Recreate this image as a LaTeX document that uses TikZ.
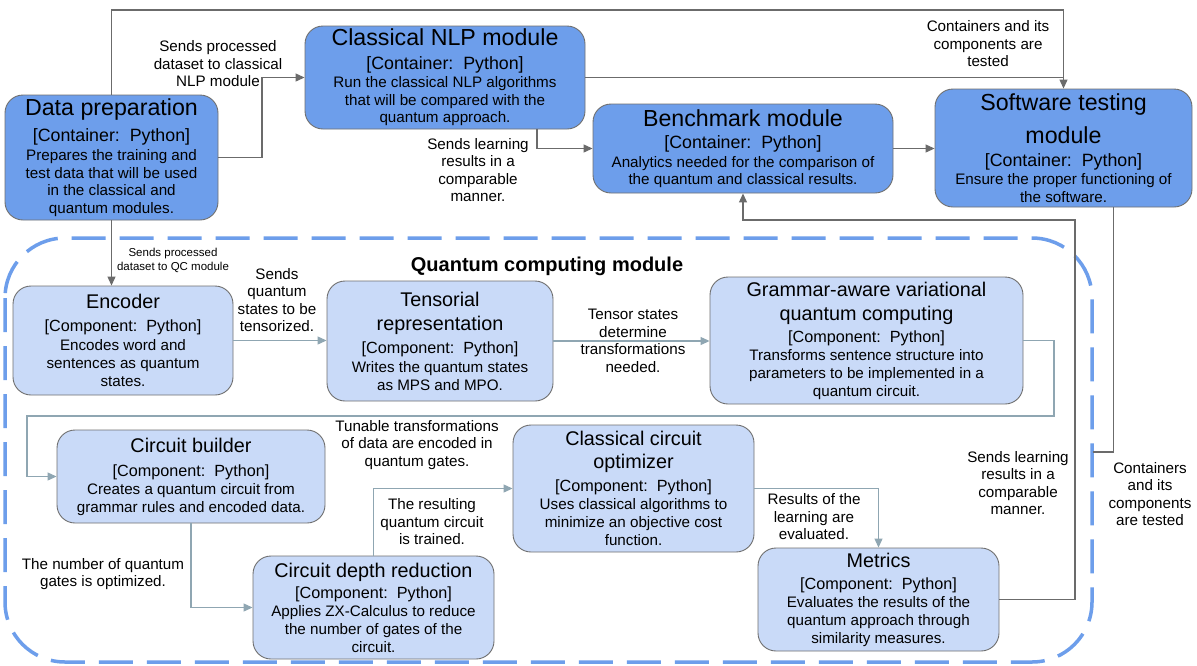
\documentclass[tikz,border=0pt]{standalone}
\usepackage{fontspec}
\setmainfont{Liberation Sans}
\usetikzlibrary{arrows.meta,calc}
\definecolor{modfill}{HTML}{6D9EEB}
\definecolor{compfill}{HTML}{C9DAF8}
\definecolor{boxline}{HTML}{707070}
\definecolor{darkconn}{HTML}{6B6B6B}
\definecolor{lightconn}{HTML}{8FA6B2}
\definecolor{qcdash}{HTML}{6D9EEB}
\newcommand\mtl[1]{{\fontsize{23.2}{26}\selectfont #1}}
\newcommand\mct[1]{{\fontsize{17.8}{20}\selectfont #1}}
\newcommand\ctl[1]{{\fontsize{19.8}{23}\selectfont #1}}
\newcommand\cct[1]{{\fontsize{16.2}{19}\selectfont #1}}
\begin{document}
\begin{tikzpicture}[x=1pt,y=-1pt,
 box/.style={draw=boxline, line width=0.9pt, rounded corners=18pt, align=center, inner sep=0pt, anchor=center},
 modbox/.style={box, fill=modfill, font=\fontsize{15.2}{17.5}\selectfont},
 compbox/.style={box, fill=compfill, font=\fontsize{15.2}{18}\selectfont},
 darkarrow/.style={draw=darkconn, line width=1.1pt, -{Triangle[length=9pt,width=8pt]}},
 darkline/.style={draw=darkconn, line width=1.1pt},
 lightarrow/.style={draw=lightconn, line width=1.1pt, -{Triangle[length=9pt,width=8pt]}},
 lbl/.style={align=center, inner sep=0pt, font=\fontsize{15.2}{17.5}\selectfont},
 smalllbl/.style={align=center, inner sep=0pt, font=\fontsize{11.5}{14}\selectfont},
]
\useasboundingbox (0,0) rectangle (1197,665);
\fill[white] (0,0) rectangle (1197,665);

% quantum computing module border
\draw[qcdash, line width=3.5pt, dash pattern=on 34pt off 14pt, rounded corners=60pt] (5,238) rectangle (1092,662);
\node[font=\bfseries\fontsize{20}{23}\selectfont, inner sep=0pt] (qclbl) at (547,266) {Quantum computing module};

% containers
\node[modbox, minimum width=213pt, minimum height=125pt] (dp) at (111.5,157.5)
 {\mtl{Data preparation}\\[7pt]\mct{[Container:~~Python]}\\[2pt]Prepares the training and\\test data that will be used\\in the classical and\\quantum modules.};
\node[modbox, minimum width=280pt, minimum height=103pt] (nlp) at (445,77.5)
 {\mtl{Classical NLP module}\\[6pt]\mct{[Container:~~Python]}\\[1pt]Run the classical NLP algorithms\\that will be compared with the\\quantum approach.};
\node[modbox, minimum width=300pt, minimum height=89pt] (bench) at (743,148.5)
 {\mtl{Benchmark module}\\[5pt]\mct{[Container:~~Python]}\\[1pt]Analytics needed for the comparison of\\the quantum and classical results.};
\node[modbox, minimum width=257pt, minimum height=118pt] (soft) at (1063.5,148)
 {\mtl{Software testing}\\[11pt]\mtl{module}\\[5pt]\mct{[Container:~~Python]}\\[1pt]Ensure the proper functioning of\\the software.};

% components
\node[compbox, minimum width=220pt, minimum height=109pt] (enc) at (123,340.5)
 {\ctl{Encoder}\\[5pt]\cct{[Component:~~Python]}\\[1pt]Encodes word and\\sentences as quantum\\states.};
\node[compbox, minimum width=226pt, minimum height=120pt] (tens) at (440,341)
 {\ctl{Tensorial}\\[6pt]\ctl{representation}\\[5pt]\cct{[Component:~~Python]}\\[1pt]Writes the quantum states\\as MPS and MPO.};
\node[compbox, minimum width=313pt, minimum height=127pt] (gram) at (866.5,340.5)
 {\ctl{Grammar-aware variational}\\[6pt]\ctl{quantum computing}\\[4pt]\cct{[Component:~~Python]}\\[0pt]Transforms sentence structure into\\parameters to be implemented in a\\quantum circuit.};
\node[compbox, minimum width=268pt, minimum height=93pt] (cb) at (191,476.5)
 {\ctl{Circuit builder}\\[6pt]\cct{[Component:~~Python]}\\[0pt]Creates a quantum circuit from\\grammar rules and encoded data.};
\node[compbox, minimum width=241pt, minimum height=103pt] (cdr) at (373.5,607.5)
 {\ctl{Circuit depth reduction}\\[3pt]\cct{[Component:~~Python]}\\[0pt]Applies ZX-Calculus to reduce\\the number of gates of the\\circuit.};
\node[compbox, minimum width=241pt, minimum height=127pt] (cco) at (633.5,488.5)
 {\ctl{Classical circuit}\\[5pt]\ctl{optimizer}\\[5pt]\cct{[Component:~~Python]}\\[0pt]Uses classical algorithms to\\minimize an objective cost\\function.};
\node[compbox, minimum width=241pt, minimum height=103pt] (met) at (878.5,599.5)
 {\ctl{Metrics}\\[4pt]\cct{[Component:~~Python]}\\[0pt]Evaluates the results of the\\quantum approach through\\similarity measures.};

% labels
\node[lbl] (l1) at (218,64) {Sends processed\\dataset to classical\\NLP module};
\node[lbl] (l2) at (988,44) {Containers and its\\components are\\tested};
\node[lbl] (l3) at (478,170) {Sends learning\\results in a\\comparable\\manner.};
\node[smalllbl] (l4) at (173,260) {Sends processed\\dataset to QC module};
\node[lbl] (l5) at (277,300) {Sends\\quantum\\states to be\\tensorized.};
\node[lbl] (l6) at (633,341) {Tensor states\\determine\\transformations\\needed.};
\node[lbl] (l7) at (417,445) {Tunable transformations\\of data are encoded in\\quantum gates.};
\node[lbl] (l8) at (103,574) {The number of quantum\\gates is optimized.};
\node[lbl] (l9) at (432,522) {The resulting\\quantum circuit\\is trained.};
\node[lbl] (l10) at (814,517) {Results of the\\learning are\\evaluated.};
\node[lbl] (l11) at (1018,483) {Sends learning\\results in a\\comparable\\manner.};
\node[lbl] (l12) at (1150,494) {Containers\\and its\\components\\are tested};

% connectors among containers
\coordinate (b1) at (262,157.5);
\draw[darkarrow] (dp.east) -- (b1) |- (nlp.west);
\coordinate (top) at (111,10);
\draw[darkarrow] (dp.north) -- (dp.north |- top) -| (soft.north);
\draw[darkline] (nlp.east) -- (nlp.east -| soft.north);
\draw[darkarrow] ([xshift=92pt]nlp.south) |- (bench.west);
\draw[darkarrow] (bench.east) -- (bench.east -| soft.west);
\coordinate (qcr) at (1093,452);
\draw[darkline] ([xshift=50pt]soft.south) |- (qcr);
\coordinate (mr) at (1075,220);
\draw[darkarrow] (met.east) -| (mr) -| (bench.south);
\draw[darkarrow] (dp.south) -- (dp.south |- enc.north);

% connectors among components
\draw[lightarrow] (enc.east) -- (enc.east -| tens.west);
\draw[lightarrow] (tens.east) -- (tens.east -| gram.west);
\coordinate (g1) at (1054,416);
\coordinate (g2) at (27,416);
\draw[lightarrow] (gram.east) -| (g1) -- (g2) |- (cb.west);
\draw[lightarrow] (cb.south) |- (cdr.west);
\draw[lightarrow] (cdr.north) |- (cco.west);
\draw[lightarrow] (cco.east) -| (met.north);
\end{tikzpicture}
\end{document}
